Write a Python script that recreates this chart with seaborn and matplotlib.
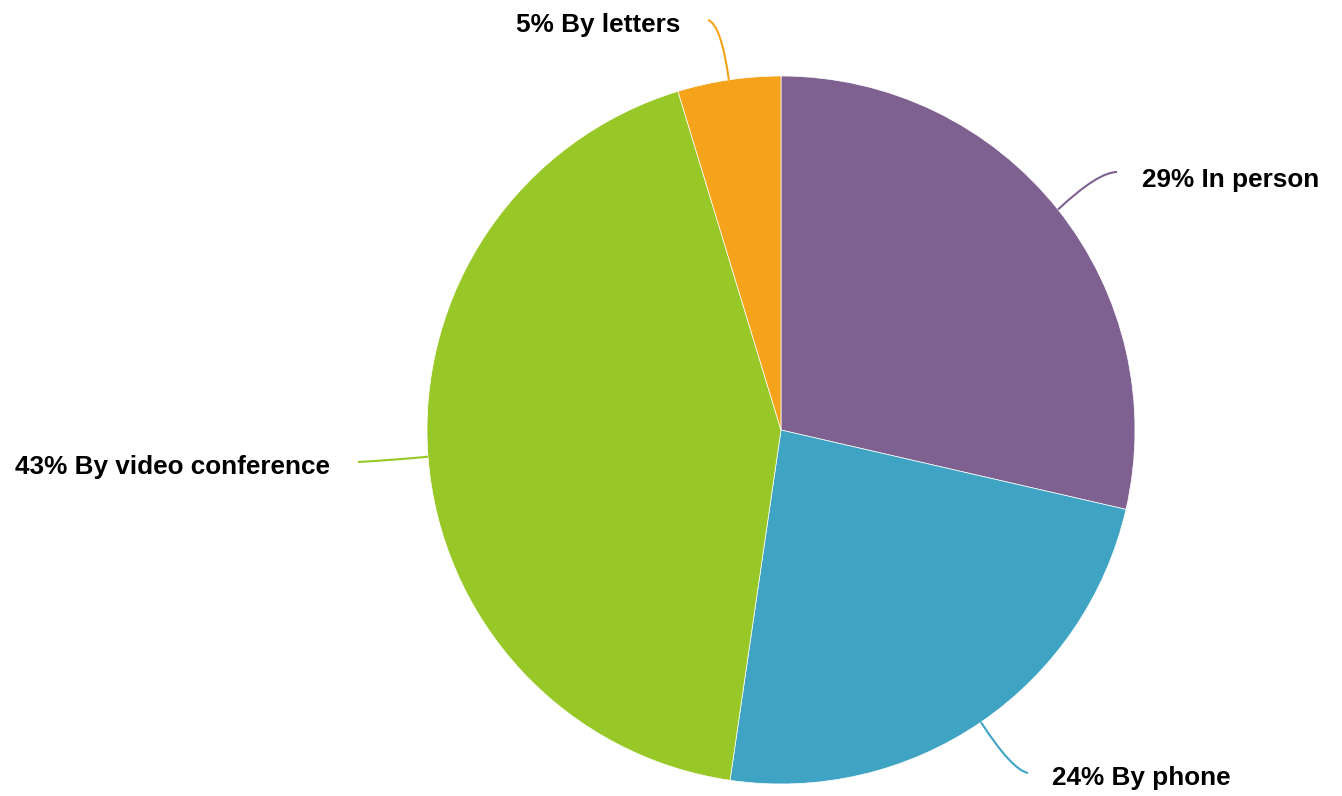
import numpy as np
import matplotlib.pyplot as plt
import seaborn as sns
from matplotlib.path import Path
from matplotlib.patches import PathPatch

# data (clockwise from 12 o'clock)
categories = ['In person', 'By phone', 'By video conference', 'By letters']
shares = [28.6, 23.7, 43.0, 4.7]
colors = ['#7E6190', '#3FA3C4', '#98C828', '#F4A31A']

sns.set_theme(style='white')
plt.rcParams['font.family'] = ['Liberation Sans', 'DejaVu Sans']

W, H = 1342, 796
fig = plt.figure(figsize=(W / 100, H / 100), dpi=100)
ax = fig.add_axes([0, 0, 1, 1])

cx, cy, r = 781, H - 430, 354
ax.pie(shares, colors=colors, startangle=90, counterclock=False,
       center=(cx, cy), radius=r, frame=True,
       wedgeprops=dict(edgecolor='white', linewidth=0.5))
ax.set_xlim(0, W)
ax.set_ylim(0, H)
ax.set_aspect('equal')
ax.axis('off')

# label layout: (text x, text y, ha, control point, line end) in pixels from top-left
layout = [
    (1142, 180, 'left', (1098, 172), (1117, 172)),
    (1052, 778, 'left', (1012, 770), (1028, 773)),
    (330, 467, 'right', (395, 460), (358, 462)),
    (680, 25, 'right', (721, 24), (708, 20)),
]

cum = np.cumsum([0] + shares[:-1])
total = sum(shares)
for cat, val, c0, col, (tx, ty, ha, ctrl, end) in zip(categories, shares, cum, colors, layout):
    mid = np.deg2rad(90 - (c0 + val / 2) / total * 360)
    sx, sy = cx + r * np.cos(mid), cy + r * np.sin(mid)
    path = Path([(sx, sy), (ctrl[0], H - ctrl[1]), (end[0], H - end[1])],
                [Path.MOVETO, Path.CURVE3, Path.CURVE3])
    ax.add_patch(PathPatch(path, facecolor='none', edgecolor=col, lw=1.5))
    ax.text(tx, H - ty, f'{round(val)}% {cat}', ha=ha, va='center',
            fontsize=18.8, fontweight='bold', color='black')

fig.savefig('out.png', dpi=100)
